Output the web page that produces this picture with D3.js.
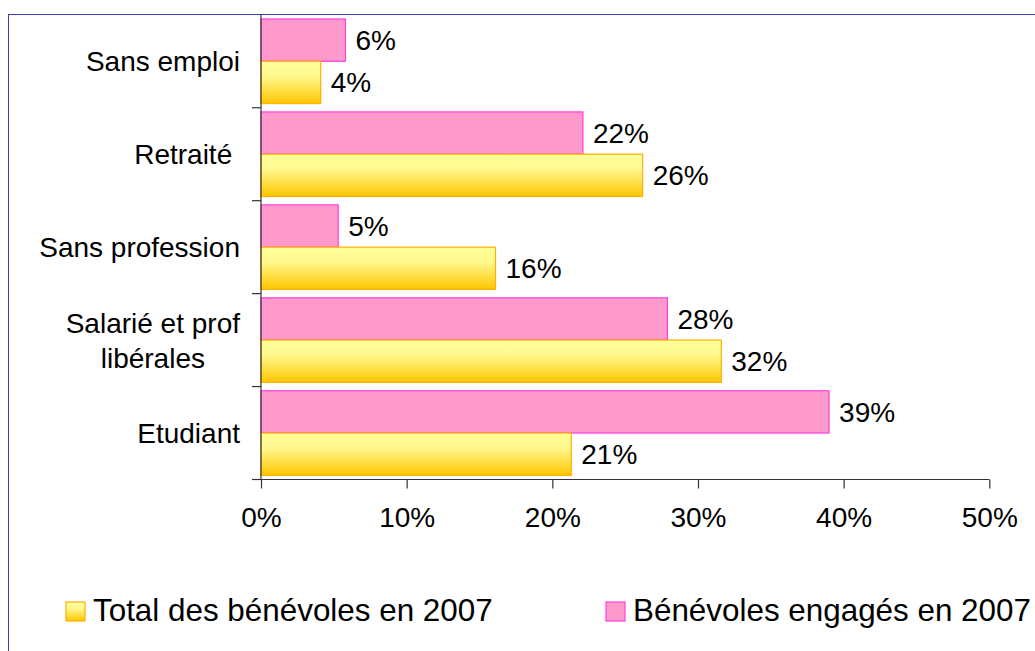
<!DOCTYPE html>
<html>
<head>
<meta charset="utf-8">
<script src="https://cdn.jsdelivr.net/npm/d3@7"></script>
<style>
  body { margin: 0; background: #fff; }
  text { font-family: "Liberation Sans", Arial, sans-serif; fill: #000; }
</style>
</head>
<body>
<div id="chart"></div>
<script>
// categories, top to bottom (the trailing space after Retraité is in the original)
var categories = ["Sans emploi", "Retraité ", "Sans profession", "Salarié et prof\nlibérales", "Etudiant"];
var seriesNames = ["Bénévoles engagés en 2007", "Total des bénévoles en 2007"];
var engages = [5.8, 22.1, 5.3, 27.9, 39.0];
var total = [4.1, 26.2, 16.1, 31.6, 21.3];
var xTicks = [0, 10, 20, 30, 40, 50];

function init() {
    var w = 1035;
    var h = 651;

    var svg = d3.select("#chart")
        .append("svg")
        .attr("width", w)
        .attr("height", h);

    // gradient for the yellow bars
    var defs = svg.append("defs");
    var grad = defs.append("linearGradient")
        .attr("id", "yellowGrad")
        .attr("x1", 0).attr("y1", 0)
        .attr("x2", 0).attr("y2", 1);
    grad.append("stop").attr("offset", "0%").attr("stop-color", "#FFFF99");
    grad.append("stop").attr("offset", "35%").attr("stop-color", "#FFF88F");
    grad.append("stop").attr("offset", "100%").attr("stop-color", "#FFC600");

    // outer frame (runs past the window on the right and bottom)
    svg.append("rect")
        .attr("x", 8.5).attr("y", 14.5)
        .attr("width", 1100).attr("height", 700)
        .attr("fill", "none")
        .attr("stroke", "#4040B0")
        .attr("stroke-width", 1);

    var left = 261, right = 989.3, top = 14.8, bottom = 479.5;

    var x = d3.scaleLinear()
        .domain([0, 50])
        .range([left, right]);

    var y = d3.scaleBand()
        .domain(categories)
        .range([top, bottom])
        .paddingInner(0.09)
        .paddingOuter(0.045);

    var ySub = d3.scaleBand()
        .domain(seriesNames)
        .range([0, y.bandwidth()]);

    var step = y.step();

    // bars
    var rows = categories.map(function (c, i) {
        return { cat: c, values: [engages[i], total[i]] };
    });

    var groups = svg.selectAll("g.row")
        .data(rows)
        .enter()
        .append("g")
        .attr("class", "row")
        .attr("transform", function (d) { return "translate(0," + y(d.cat) + ")"; });

    groups.selectAll("rect")
        .data(function (d) {
            return d.values.map(function (v, j) { return { name: seriesNames[j], v: v, j: j }; });
        })
        .enter()
        .append("rect")
        .attr("x", x(0))
        .attr("y", function (d) { return ySub(d.name); })
        .attr("width", function (d) { return x(d.v) - x(0); })
        .attr("height", ySub.bandwidth())
        .attr("fill", function (d) { return d.j == 0 ? "#FF99CC" : "url(#yellowGrad)"; })
        .attr("stroke", function (d) { return d.j == 0 ? "#FF3FDF" : "#FFB000"; })
        .attr("stroke-width", 1.2);

    groups.selectAll("text.val")
        .data(function (d) {
            return d.values.map(function (v, j) { return { name: seriesNames[j], v: v }; });
        })
        .enter()
        .append("text")
        .attr("class", "val")
        .attr("x", function (d) { return x(d.v) + 10; })
        .attr("y", function (d) { return ySub(d.name) + ySub.bandwidth() / 2 + 10; })
        .style("font-size", "28px")
        .text(function (d) { return Math.round(d.v) + "%"; });

    // category axis
    var axisColor = "#333";
    svg.append("line")
        .attr("x1", left).attr("x2", left)
        .attr("y1", top).attr("y2", bottom)
        .attr("stroke", axisColor).attr("stroke-width", 1.2);

    svg.selectAll("line.ctick")
        .data(d3.range(1, categories.length + 1))
        .enter()
        .append("line")
        .attr("class", "ctick")
        .attr("x1", left - 9).attr("x2", left)
        .attr("y1", function (i) { return top + i * step; })
        .attr("y2", function (i) { return top + i * step; })
        .attr("stroke", axisColor).attr("stroke-width", 1.2);

    // category labels, multi-line ones centred on their block
    var labels = svg.selectAll("text.cat")
        .data(categories)
        .enter()
        .append("text")
        .attr("class", "cat")
        .style("font-size", "28px")
        .style("white-space", "pre")
        .attr("text-anchor", "middle");

    labels.each(function (c) {
        var lines = c.split("\n");
        var t = d3.select(this);
        var mid = y(c) + y.bandwidth() / 2;
        var lineH = 35;
        var first = mid + 10 - (lines.length - 1) * lineH / 2;
        var maxW = 0;
        lines.forEach(function (l, k) {
            var ts = t.append("tspan").attr("x", 0).attr("y", first + k * lineH).text(l);
            maxW = Math.max(maxW, ts.node().getComputedTextLength());
        });
        // right align the block at x = 240
        t.selectAll("tspan").attr("x", 240 - maxW / 2);
    });

    // value axis
    var xAxis = d3.axisBottom(x)
        .tickValues(xTicks)
        .tickSize(9)
        .tickPadding(19)
        .tickFormat(function (d) { return d + "%"; });

    var gx = svg.append("g")
        .attr("transform", "translate(0," + bottom + ")")
        .call(xAxis);
    gx.select(".domain").attr("stroke", axisColor).attr("stroke-width", 1.2)
        .attr("d", "M" + left + ",0H" + right);
    gx.selectAll(".tick line").attr("stroke", axisColor).attr("stroke-width", 1.2);
    gx.selectAll(".tick text")
        .style("font-size", "28px")
        .style("font-family", "'Liberation Sans', Arial, sans-serif")
        .attr("fill", "#000");

    // legend
    var legendItems = [
        { name: seriesNames[1], x: 66, fill: "url(#yellowGrad)", stroke: "#FFB000" },
        { name: seriesNames[0], x: 606, fill: "#FF99CC", stroke: "#FF3FDF" }
    ];

    var lg = svg.selectAll("g.legend")
        .data(legendItems)
        .enter()
        .append("g")
        .attr("class", "legend");

    lg.append("rect")
        .attr("x", function (d) { return d.x; })
        .attr("y", 602)
        .attr("width", 19)
        .attr("height", 19)
        .attr("fill", function (d) { return d.fill; })
        .attr("stroke", function (d) { return d.stroke; })
        .attr("stroke-width", 1.2);

    lg.append("text")
        .attr("x", function (d) { return d.x + 27; })
        .attr("y", 621)
        .style("font-size", "31.4px")
        .text(function (d) { return d.name; });
}

window.onload = init;
</script>
</body>
</html>
